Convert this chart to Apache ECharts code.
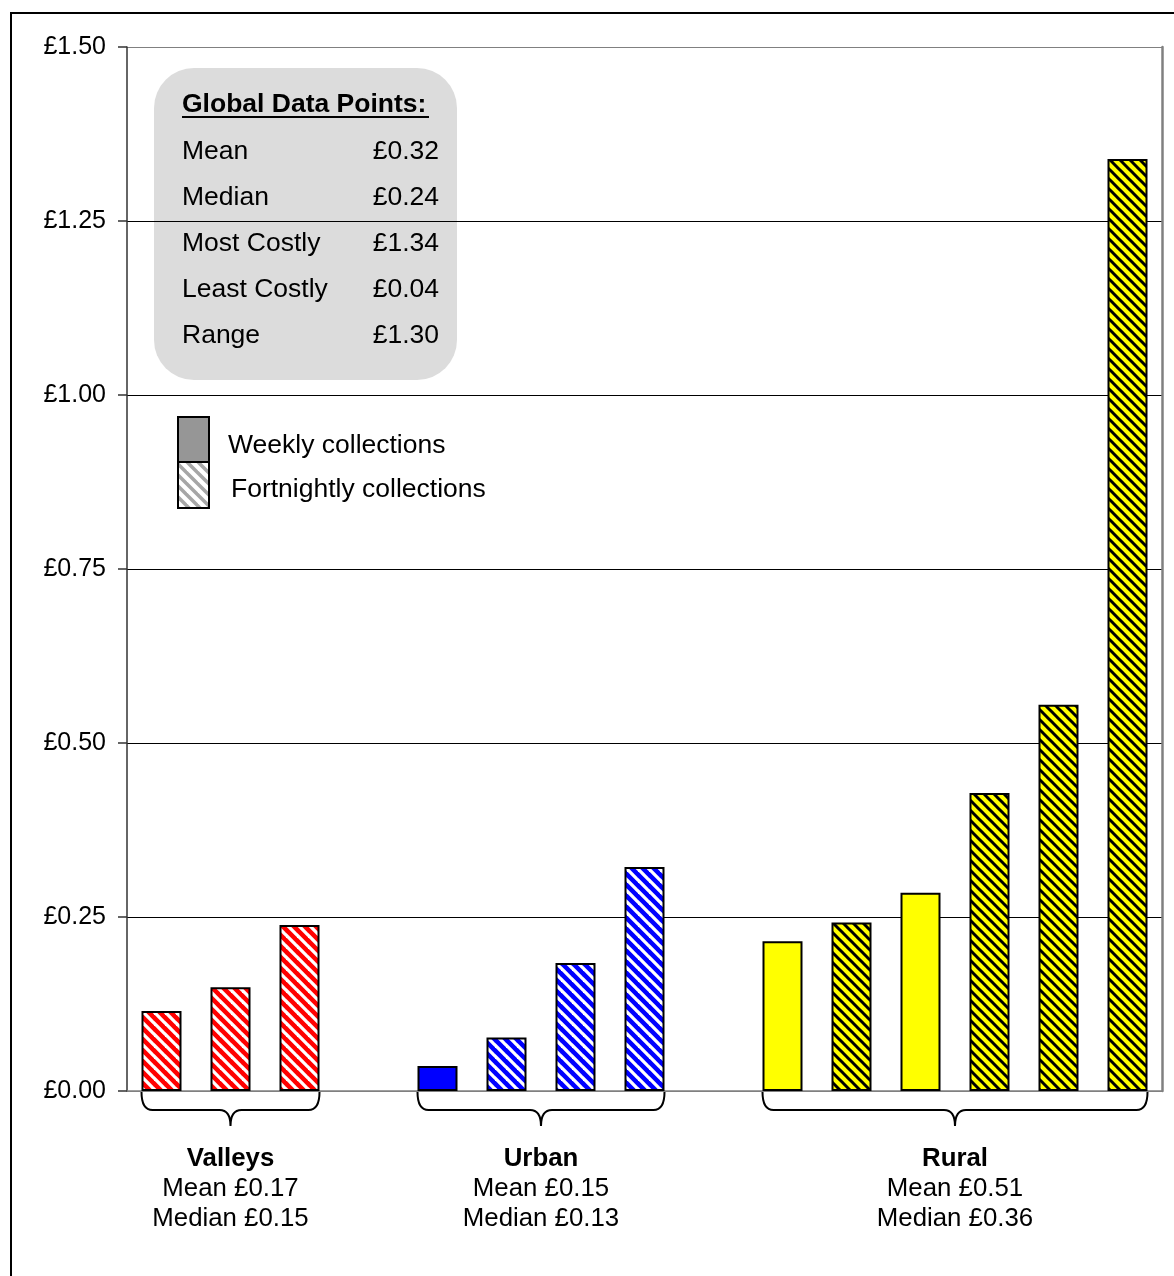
<!DOCTYPE html>
<html>
<head>
<meta charset="utf-8">
<script src="https://cdn.jsdelivr.net/npm/echarts@6/dist/echarts.min.js"></script>
<style>
html,body{margin:0;padding:0;background:#fff;}
#chart{width:1174px;height:1276px;}
</style>
</head>
<body>
<div id="chart"></div>
<script>
// ---------------- DATA ----------------
const groupNames   = ['Valleys', 'Urban', 'Rural'];
const groupMeans   = ['Mean £0.17', 'Mean £0.15', 'Mean £0.51'];
const groupMedians = ['Median £0.15', 'Median £0.13', 'Median £0.36'];

const valleysValues = [0.115, 0.149, 0.2385];
const valleysFreq   = ['F', 'F', 'F'];
const urbanValues   = [0.036, 0.077, 0.184, 0.322];
const urbanFreq     = ['W', 'F', 'F', 'F'];
const ruralValues   = [0.215, 0.242, 0.285, 0.428, 0.555, 1.339];
const ruralFreq     = ['W', 'F', 'W', 'F', 'F', 'F'];

const statLabels = ['Mean', 'Median', 'Most Costly', 'Least Costly', 'Range'];
const statValues = ['£0.32', '£0.24', '£1.34', '£0.04', '£1.30'];
const statTitle  = 'Global Data Points:';

const legendLabels = ['Weekly collections', 'Fortnightly collections'];

const yMin = 0, yMax = 1.5, yStep = 0.25;

// ---------------- PATTERNS ----------------
function hatch(bg, fg, size, w) {
  const c = document.createElement('canvas');
  c.width = size; c.height = size;
  const ctx = c.getContext('2d');
  ctx.fillStyle = bg; ctx.fillRect(0, 0, size, size);
  ctx.strokeStyle = fg; ctx.lineWidth = w;
  for (const k of [-size, 0, size]) {
    ctx.beginPath(); ctx.moveTo(k - 2, -2); ctx.lineTo(k + size + 2, size + 2); ctx.stroke();
  }
  return c;
}
const styles = {
  Valleys: { W: '#ff0000', F: { image: hatch('#ff0000', '#ffffff', 11, 3.3), repeat: 'repeat' } },
  Urban:   { W: '#0000ff', F: { image: hatch('#0000ff', '#ffffff', 11, 3.3), repeat: 'repeat' } },
  Rural:   { W: '#ffff00', F: { image: hatch('#ffff00', '#000000', 10, 3.0), repeat: 'repeat' } }
};

// ---------------- BUILD SLOTS ----------------
const groupValues = [valleysValues, urbanValues, ruralValues];
const groupFreqs  = [valleysFreq, urbanFreq, ruralFreq];
const categories = [];
const barData = [];
const braceData = [];
groupValues.forEach((vals, gi) => {
  if (gi > 0) { categories.push('gap' + gi); barData.push(null); }
  const start = categories.length;
  vals.forEach((v, i) => {
    categories.push(groupNames[gi] + ' ' + (i + 1));
    barData.push({ value: v, itemStyle: { color: styles[groupNames[gi]][groupFreqs[gi][i]] } });
  });
  braceData.push([start, categories.length - 1, gi, 0]);
});

const FONT = '"Liberation Sans", Arial, sans-serif';
const FS_AXIS = 25;
const FS_BOX = 26.5;
const FS_GROUP = 25.8;
const halfBar = 20;

const chart = echarts.init(document.getElementById('chart'), null, { renderer: 'canvas' });

const lineCount = Math.round((yMax - yMin) / yStep) + 1;
const splitColors = [];
for (let i = 0; i < lineCount; i++) splitColors.push(i === 0 || i === lineCount - 1 ? '#808080' : '#000000');

// stats box graphic
const boxChildren = [
  { type: 'rect', shape: { x: 154, y: 68, width: 303, height: 312, r: 40 }, style: { fill: '#dcdcdc' } },
  { type: 'text', style: { x: 182, y: 105, text: statTitle, font: 'bold ' + FS_BOX + 'px ' + FONT, fill: '#000', verticalAlign: 'middle' } },
  { type: 'line', shape: { x1: 182, y1: 117, x2: 429, y2: 117 }, style: { stroke: '#000', lineWidth: 2 } }
];
statLabels.forEach((l, i) => {
  const y = 152 + i * 45.8;
  boxChildren.push({ type: 'text', style: { x: 182, y: y, text: l, font: FS_BOX + 'px ' + FONT, fill: '#000', verticalAlign: 'middle' } });
  boxChildren.push({ type: 'text', style: { x: 439, y: y, text: statValues[i], font: FS_BOX + 'px ' + FONT, fill: '#000', align: 'right', verticalAlign: 'middle' } });
});

const legendChildren = [
  { type: 'rect', shape: { x: 178, y: 417, width: 31, height: 45 }, style: { fill: '#969696', stroke: '#000', lineWidth: 2 } },
  { type: 'rect', shape: { x: 178, y: 462, width: 31, height: 46 }, style: { fill: { image: hatch('#ffffff', '#a6a6a6', 11, 3.5), repeat: 'repeat' }, stroke: '#000', lineWidth: 2 } },
  { type: 'text', style: { x: 228, y: 446, text: legendLabels[0], font: FS_BOX + 'px ' + FONT, fill: '#000', verticalAlign: 'middle' } },
  { type: 'text', style: { x: 231, y: 490, text: legendLabels[1], font: FS_BOX + 'px ' + FONT, fill: '#000', verticalAlign: 'middle' } }
];

const option = {
  animation: false,
  backgroundColor: '#ffffff',
  grid: { left: 127, top: 47, right: 12, bottom: 185, containLabel: false },
  xAxis: {
    type: 'category',
    data: categories,
    boundaryGap: true,
    axisLine: { show: true, lineStyle: { color: '#808080', width: 1.5 } },
    axisTick: { show: false },
    axisLabel: { show: false },
    splitLine: { show: false }
  },
  yAxis: [{
    type: 'value',
    min: yMin, max: yMax, interval: yStep,
    axisLine: { show: true, lineStyle: { color: '#333333', width: 1.5 } },
    axisTick: { show: true, inside: false, length: 9, lineStyle: { color: '#333333', width: 1.5 } },
    axisLabel: { show: true, margin: 21, color: '#000', fontSize: FS_AXIS, fontFamily: FONT, formatter: v => '£' + v.toFixed(2) },
    splitLine: { show: true, lineStyle: { color: splitColors, width: 1.2 } }
  }, {
    type: 'value', position: 'right',
    min: yMin, max: yMax, interval: yStep,
    axisLine: { show: true, lineStyle: { color: '#808080', width: 2.5 } },
    axisTick: { show: false }, axisLabel: { show: false }, splitLine: { show: false }
  }],
  series: [{
    type: 'bar',
    data: barData,
    barWidth: 40,
    itemStyle: { borderColor: '#000', borderWidth: 2 },
    z: 3
  }, {
    type: 'custom',
    data: braceData,
    encode: { x: [0, 1], y: 3 },
    clip: false,
    silent: true,
    z: 5,
    renderItem: function (params, api) {
      const s = api.value(0), e = api.value(1), gi = api.value(2);
      const p0 = api.coord([s, 0]);
      const p1 = api.coord([e, 0]);
      const x0 = p0[0] - halfBar, x1 = p1[0] + halfBar;
      const y0 = p0[1] + 1;
      const ym = y0 + 18, yt = y0 + 34;
      const cx = (x0 + x1) / 2;
      const r = 11, rc = 11;
      const path = 'M' + x0 + ' ' + y0 +
        ' Q' + x0 + ' ' + ym + ' ' + (x0 + r) + ' ' + ym +
        ' L' + (cx - rc) + ' ' + ym +
        ' Q' + cx + ' ' + ym + ' ' + cx + ' ' + yt +
        ' Q' + cx + ' ' + ym + ' ' + (cx + rc) + ' ' + ym +
        ' L' + (x1 - r) + ' ' + ym +
        ' Q' + x1 + ' ' + ym + ' ' + x1 + ' ' + y0;
      return {
        type: 'group',
        children: [
          { type: 'path', shape: { pathData: path }, style: { fill: 'none', stroke: '#000', lineWidth: 2 } },
          { type: 'text', style: { x: cx, y: y0 + 67, text: groupNames[gi], font: 'bold ' + FS_GROUP + 'px ' + FONT, fill: '#000', align: 'center', verticalAlign: 'middle' } },
          { type: 'text', style: { x: cx, y: y0 + 97, text: groupMeans[gi], font: FS_GROUP + 'px ' + FONT, fill: '#000', align: 'center', verticalAlign: 'middle' } },
          { type: 'text', style: { x: cx, y: y0 + 127, text: groupMedians[gi], font: FS_GROUP + 'px ' + FONT, fill: '#000', align: 'center', verticalAlign: 'middle' } }
        ]
      };
    }
  }],
  graphic: [
    { type: 'rect', shape: { x: 11, y: 13, width: 1300, height: 1400 }, style: { fill: 'none', stroke: '#000', lineWidth: 2 }, z: 0, silent: true },
    { type: 'group', children: boxChildren, z: 10 },
    { type: 'group', children: legendChildren, z: 10 }
  ]
};
chart.setOption(option);
</script>
</body>
</html>
